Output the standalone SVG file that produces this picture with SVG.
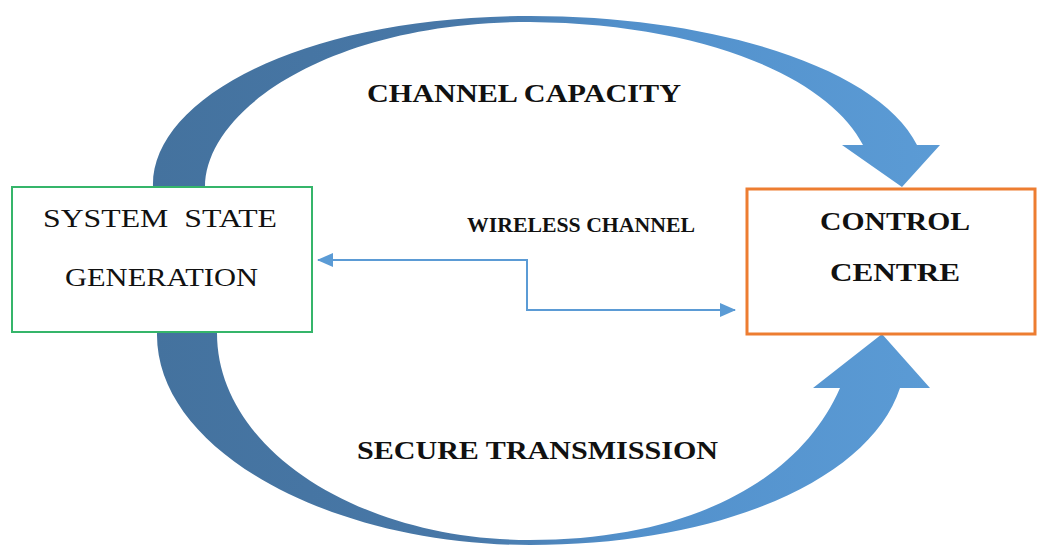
<svg xmlns="http://www.w3.org/2000/svg" width="1038" height="545" viewBox="0 0 1038 545">
<style>
.lbl{font-family:"Liberation Serif","Times New Roman",serif;fill:#111;}
.b{font-weight:bold;}
.pre{white-space:pre;}
.box{fill:#fff;}
.wire{fill:none;stroke:#5b9bd5;stroke-width:2;}
</style>
<defs>
<linearGradient id="arcGrad" gradientUnits="userSpaceOnUse" x1="150" y1="0" x2="940" y2="0">
<stop offset="0" stop-color="#44729e"/>
<stop offset="0.4" stop-color="#4878a8"/>
<stop offset="0.6" stop-color="#5290cb"/>
<stop offset="1" stop-color="#5b9bd5"/>
</linearGradient>
<marker id="ah" viewBox="0 0 16 14" refX="15" refY="7" markerWidth="16" markerHeight="14" markerUnits="userSpaceOnUse" orient="auto-start-reverse">
<path d="M0,0 L16,7 L0,14 Z" fill="#5b9bd5"/>
</marker>
</defs>
<rect width="1038" height="545" fill="#fff"/>
<g id="connectors">
<path id="arc-top" fill="url(#arcGrad)" d="M153,187 C150,100 300,16 530,16 C720,16 880,70 917,145 L940,145 L902,187 L842,145 L863,145 C830,80 710,24 530,22 C330,22 205,110 205,187 Z"/>
<path id="arc-bottom" fill="url(#arcGrad)" d="M157,333 C155,450 330,545 530,545 C720,545 870,480 900,388 L930,388 L882,334 L813,388 L840,388 C800,480 690,540 530,540 C360,540 217,450 217,333 Z"/>
<polyline id="wireless" class="wire" points="318,260 527,260 527,310 735,310" marker-start="url(#ah)" marker-end="url(#ah)"/>
</g>
<g id="node-system">
<rect class="box" x="12" y="187" width="300" height="145" stroke="#35b56a" stroke-width="2"/>
<text class="lbl pre" x="43" y="227" font-size="25" textLength="234" lengthAdjust="spacingAndGlyphs" xml:space="preserve">SYSTEM  STATE</text>
<text class="lbl" x="65" y="286" font-size="25" textLength="193" lengthAdjust="spacingAndGlyphs">GENERATION</text>
</g>
<g id="node-control">
<rect class="box" x="747" y="189" width="288" height="145" stroke="#ed7d31" stroke-width="3"/>
<text class="lbl b" x="820" y="230" font-size="25" textLength="150" lengthAdjust="spacingAndGlyphs">CONTROL</text>
<text class="lbl b" x="830" y="281" font-size="25" textLength="130" lengthAdjust="spacingAndGlyphs">CENTRE</text>
</g>
<g id="labels">
<text class="lbl b" x="367" y="102" font-size="26" textLength="314" lengthAdjust="spacingAndGlyphs">CHANNEL CAPACITY</text>
<text class="lbl b" x="467" y="232" font-size="21" textLength="228" lengthAdjust="spacingAndGlyphs">WIRELESS CHANNEL</text>
<text class="lbl b" x="357" y="459" font-size="26" textLength="361" lengthAdjust="spacingAndGlyphs">SECURE TRANSMISSION</text>
</g>
</svg>
